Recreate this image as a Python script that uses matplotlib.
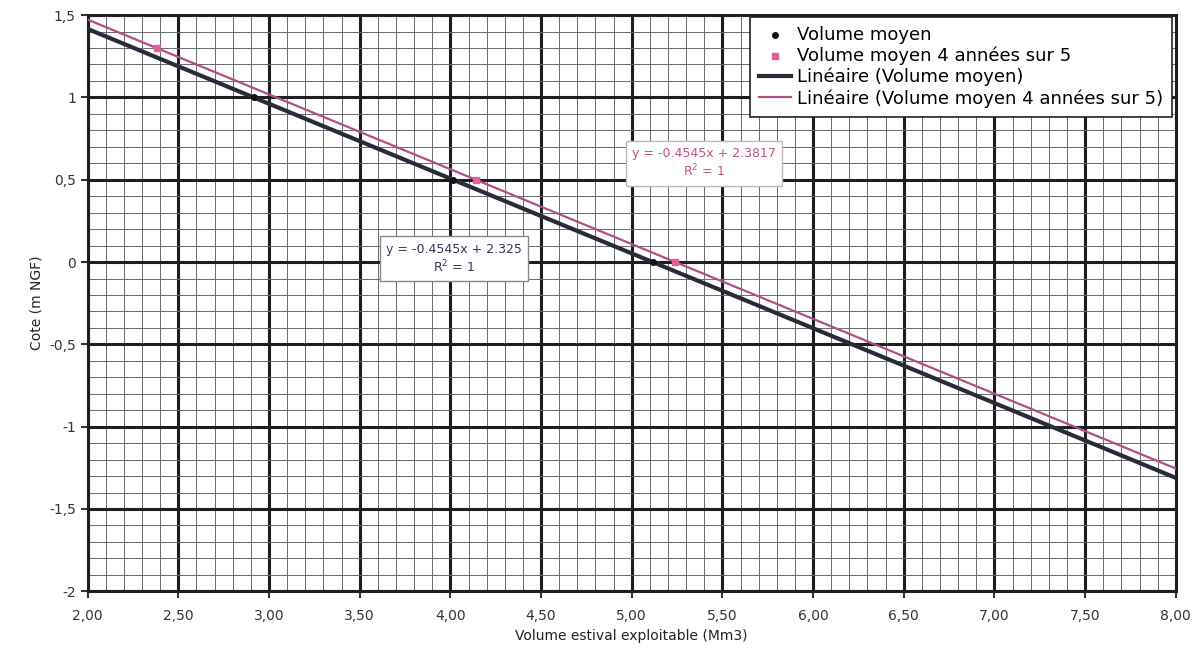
import numpy as np
import matplotlib.pyplot as plt
from matplotlib.ticker import MultipleLocator, FuncFormatter

# points (Volume estival exploitable, Cote)
vol_moyen_x = [2.915, 4.015, 5.115]
vol_moyen_y = [1.0, 0.5, 0.0]
vol_45_x = [2.38, 4.14, 5.24]
vol_45_y = [1.3, 0.5, 0.0]

# linear trends
slope_moyen, icpt_moyen = -0.4545, 2.325
slope_45, icpt_45 = -0.4545, 2.3817

x_range = [2.0, 8.0]

fig, ax = plt.subplots(figsize=(12.01, 6.57), dpi=100)
fig.subplots_adjust(left=0.073, right=0.979, top=0.977, bottom=0.100)

ax.set_xlim(2, 8)
ax.set_ylim(-2, 1.5)
ax.xaxis.set_major_locator(MultipleLocator(0.5))
ax.yaxis.set_major_locator(MultipleLocator(0.5))
ax.xaxis.set_minor_locator(MultipleLocator(0.1))
ax.yaxis.set_minor_locator(MultipleLocator(0.1))
ax.grid(which='major', color='#1e1e1e', linewidth=2.2)
ax.grid(which='minor', color='#6a6a6a', linewidth=0.7)
ax.set_axisbelow(True)
for s in ax.spines.values():
    s.set_linewidth(2.2)
    s.set_color('#1e1e1e')

ax.xaxis.set_major_formatter(FuncFormatter(lambda v, p: f"{v:.2f}".replace('.', ',')))
ax.yaxis.set_major_formatter(FuncFormatter(lambda v, p: f"{v:g}".replace('.', ',')))
ax.tick_params(which='major', labelsize=10, length=5, width=1.5, colors='#333333')
ax.tick_params(axis='x', which='major', pad=8)
ax.tick_params(which='minor', length=0)

xs = np.array(x_range)
ax.plot(xs, slope_moyen * xs + icpt_moyen, color='#2a2a3a', linewidth=3,
        label='Linéaire (Volume moyen)', zorder=3)
ax.plot(xs, slope_45 * xs + icpt_45, color='#b04f86', linewidth=1.6,
        label='Linéaire (Volume moyen 4 années sur 5)', zorder=4)
ax.scatter(vol_moyen_x, vol_moyen_y, s=16, color='#111111',
           label='Volume moyen', zorder=5)
ax.scatter(vol_45_x, vol_45_y, s=22, marker='s', color='#e0609a',
           label='Volume moyen 4 années sur 5', zorder=5)

handles, labels = ax.get_legend_handles_labels()
order = [2, 3, 0, 1]
leg = ax.legend([handles[i] for i in order], [labels[i] for i in order],
                loc='upper right', bbox_to_anchor=(0.998, 1.0), fontsize=13,
                frameon=True, fancybox=False, edgecolor='#222222',
                handlelength=1.8, handletextpad=0.3, borderpad=0.5,
                borderaxespad=0.1, labelspacing=0.15, framealpha=1)
leg.get_frame().set_linewidth(1.2)

ax.text(4.02, 0.02, "y = -0.4545x + 2.325\nR$^2$ = 1", ha='center', va='center',
        fontsize=9, color='#333355', zorder=6,
        bbox=dict(boxstyle='square,pad=0.5', facecolor='white', edgecolor='#888888'))
ax.text(5.40, 0.60, "y = -0.4545x + 2.3817\nR$^2$ = 1", ha='center', va='center',
        fontsize=9, color='#c0508a', zorder=6,
        bbox=dict(boxstyle='square,pad=0.5', facecolor='white', edgecolor='#bbbbbb'))

ax.set_xlabel('Volume estival exploitable (Mm3)', fontsize=10, color='#222222')
ax.set_ylabel('Cote (m NGF)', fontsize=10, color='#222222')

fig.savefig('out.png', dpi=100)
